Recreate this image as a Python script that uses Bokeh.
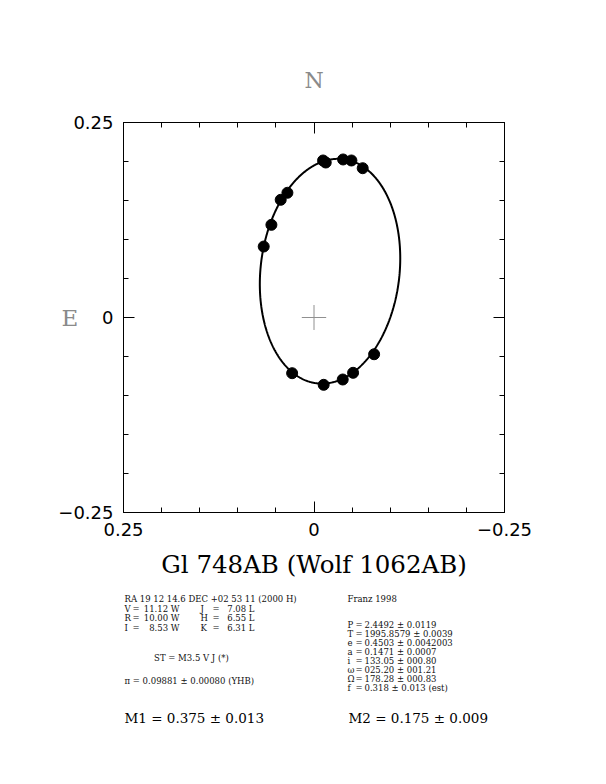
import numpy as np
from bokeh.plotting import figure
from bokeh.layouts import column
from bokeh.models import Range1d, LinearAxis, FixedTicker
from bokeh.core.properties import value
from bokeh.embed import file_html
from bokeh.resources import INLINE

# ---------------- data ----------------
# observed relative positions of the companion (arcsec)
obs_east = [-0.0119, -0.0154, -0.0382, -0.0491, -0.0639, 0.0349, 0.0437,
            0.0559, 0.0660, 0.0287, -0.0127, -0.0377, -0.0513, -0.0789]
obs_north = [0.2013, 0.1987, 0.2026, 0.2013, 0.1914, 0.1599, 0.1509,
             0.1188, 0.0910, -0.0714, -0.0863, -0.0795, -0.0709, -0.0471]

# orbital elements (Franz 1998)
el_P = 2.4492
el_T = 1995.8579
el_e = 0.4503
el_a = 0.1471
el_i = 133.05
el_omega = 25.20
el_Omega = 178.28

tick_values = [0.25, 0.0, -0.25]
tick_labels = ["0.25", "0", "\u22120.25"]
minor_tick_values = [-0.2, -0.15, -0.1, -0.05, 0.05, 0.1, 0.15, 0.2]

title_text = "Gl 748AB (Wolf 1062AB)"
coord_line = "RA 19 12 14.6  DEC +02 53 11 (2000 H)"
phot_names_l = ["V", "R", "I"]
phot_vals_l = ["11.12 W", "10.00 W", "8.53 W"]
phot_names_r = ["J", "H", "K"]
phot_vals_r = ["7.08 L", "6.55 L", "6.31 L"]
st_line = "ST  =   M3.5 V J (*)"
plx_line = "\u03c0  =  0.09881 \u00b1 0.00080 (YHB)"
orb_ref = "Franz 1998"
orb_names = ["P", "T", "e", "a", "i", "\u03c9", "\u03a9", "f"]
orb_vals = ["2.4492 \u00b1 0.0119", "1995.8579 \u00b1 0.0039",
            "0.4503 \u00b1 0.0042003", "0.1471 \u00b1 0.0007",
            "133.05 \u00b1 000.80", "025.20 \u00b1 001.21",
            "178.28 \u00b1 000.83", "0.318 \u00b1 0.013 (est)"]
mass1 = "M1  =  0.375 \u00b1 0.013"
mass2 = "M2  =  0.175 \u00b1 0.009"

# ---------------- orbit curve from the elements (Thiele-Innes) ----------------
w = np.radians(el_omega); W = np.radians(el_Omega); inc = np.radians(el_i)
A = el_a * (np.cos(w) * np.cos(W) - np.sin(w) * np.sin(W) * np.cos(inc))
B = el_a * (np.cos(w) * np.sin(W) + np.sin(w) * np.cos(W) * np.cos(inc))
F = el_a * (-np.sin(w) * np.cos(W) - np.cos(w) * np.sin(W) * np.cos(inc))
G = el_a * (-np.sin(w) * np.sin(W) + np.cos(w) * np.cos(W) * np.cos(inc))
E = np.linspace(0, 2 * np.pi, 721)
Xo = np.cos(E) - el_e
Yo = np.sqrt(1 - el_e ** 2) * np.sin(E)
orb_north = A * Xo + F * Yo
orb_east = B * Xo + G * Yo

# ---------------- main figure ----------------
FIG_W, MAIN_H, TEXT_H = 598, 585, 191
FL, FR, FT, FB = 123, 504, 122, 512  # frame edges in page pixels

p = figure(width=FIG_W, height=MAIN_H, output_backend="svg", toolbar_location=None,
           x_range=Range1d(0.25, -0.25), y_range=Range1d(-0.25, 0.25),
           x_axis_location=None, y_axis_location=None,
           min_border_left=FL, min_border_right=FIG_W - FR,
           min_border_top=FT, min_border_bottom=MAIN_H - FB)
p.grid.visible = False
p.outline_line_color = "black"
p.outline_line_width = 1

ticker = FixedTicker(ticks=tick_values, minor_ticks=minor_tick_values)
overrides = {v: t for v, t in zip(tick_values, tick_labels)}


def make_axis(show_labels, standoff=8):
    ax = LinearAxis(ticker=ticker)
    ax.major_tick_in = 11
    ax.major_tick_out = 0
    ax.minor_tick_in = 5
    ax.minor_tick_out = 0
    ax.axis_line_color = "black"
    ax.major_tick_line_color = "black"
    ax.minor_tick_line_color = "black"
    ax.major_label_overrides = overrides
    ax.major_label_text_font = "DejaVu Sans"
    ax.major_label_text_font_size = "18px" if show_labels else "0px"
    ax.major_label_text_color = "black" if show_labels else None
    ax.major_label_standoff = standoff if show_labels else 0
    ax.axis_label_text_font = "DejaVu Serif"
    ax.axis_label_text_font_style = "normal"
    return ax


ax_b = make_axis(True, 10)
ax_b.axis_label = title_text
ax_b.axis_label_text_font_size = "24.5px"
ax_b.axis_label_text_color = "black"
ax_b.axis_label_standoff = 11
p.add_layout(ax_b, "below")

ax_l = make_axis(True, 10)
ax_l.axis_label = "E"
ax_l.axis_label_orientation = "horizontal"
ax_l.axis_label_text_font_size = "23px"
ax_l.axis_label_text_color = "#8a8a8a"
ax_l.axis_label_standoff = -23
p.add_layout(ax_l, "left")

ax_t = make_axis(False)
ax_t.axis_label = "N"
ax_t.axis_label_text_font_size = "22px"
ax_t.axis_label_text_color = "#8a8a8a"
ax_t.axis_label_standoff = 30
p.add_layout(ax_t, "above")

p.add_layout(make_axis(False), "right")

# centre cross
p.segment(x0=[0.016, 0.0], y0=[0.0, -0.016], x1=[-0.016, 0.0], y1=[0.0, 0.016],
          line_color="#909090", line_width=1)

# orbit and observations
p.line(orb_east, orb_north, line_color="black", line_width=2)
p.scatter(obs_east, obs_north, size=11, marker="circle",
          fill_color="black", line_color="black")

# ---------------- text block (a figure whose data units are page pixels) ----------------
# same side borders as the main figure so the column keeps the frames aligned
t = figure(width=FIG_W, height=TEXT_H, output_backend="svg", toolbar_location=None,
           x_range=Range1d(FL, FR), y_range=Range1d(MAIN_H + TEXT_H, MAIN_H),
           x_axis_location=None, y_axis_location=None,
           min_border_left=FL, min_border_right=FIG_W - FR,
           min_border_top=0, min_border_bottom=0, outline_line_color=None)
t.grid.visible = False


def add_text(txt, px, py, size, align="left", color="#111111"):
    t.text(x=[px], y=[py], text=[txt], text_font=value("DejaVu Serif"),
           text_font_size=value(size), text_align=align,
           text_baseline="alphabetic", text_color=color)


SMALL = "8.5px"
add_text(coord_line, 124, 598, SMALL)
row_y = [608, 617.5, 627]
for nl, vl, nr, vr, yy in zip(phot_names_l, phot_vals_l, phot_names_r, phot_vals_r, row_y):
    add_text(nl, 124, yy, SMALL)
    add_text("=", 132, yy, SMALL)
    add_text(vl, 179, yy, SMALL, align="right")
    add_text(nr, 200, yy, SMALL)
    add_text("=", 212, yy, SMALL)
    add_text(vr, 254, yy, SMALL, align="right")
add_text(st_line, 195, 657, SMALL, align="center")
add_text(plx_line, 124, 680, SMALL)

add_text(orb_ref, 347, 598, SMALL)
for k, (nm, vv) in enumerate(zip(orb_names, orb_vals)):
    yy = 624 + 9.1 * k
    add_text(nm, 347, yy, SMALL)
    add_text("=", 355, yy, SMALL)
    add_text(vv, 364, yy, SMALL)

add_text(mass1, 124, 717, "13.5px", color="black")
add_text(mass2, 348, 717, "13.5px", color="black")

layout = column(p, t, spacing=0)
open("out.html", "w").write(file_html(layout, INLINE))
